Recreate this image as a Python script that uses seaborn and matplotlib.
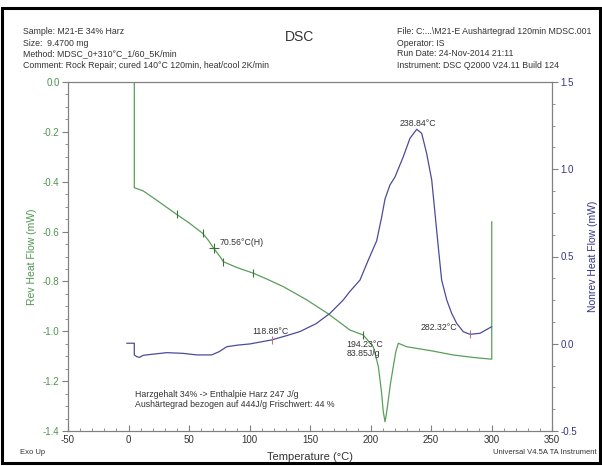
import numpy as np
import pandas as pd
import matplotlib
matplotlib.use("Agg")
import matplotlib.pyplot as plt
import seaborn as sns
from matplotlib.ticker import MultipleLocator
from matplotlib.patches import Rectangle

# ---------------- data ----------------
rev_temp = [4.8, 4.8, 12.2, 25.0, 39.8, 50.0, 61.3, 66.0, 70.1, 75.6, 78.4, 90.0,
            103.2, 115.0, 128.0, 147.3, 165.1, 183.0, 194.0, 202.3, 206.5, 208.0,
            209.2, 210.5, 212.0, 213.2, 214.7, 216.5, 218.8, 221.0, 223.0, 229.9,
            250.0, 268.4, 285.0, 300.2, 300.2]
rev_flow = [0.05, -0.424, -0.437, -0.48, -0.531, -0.565, -0.607, -0.635, -0.665, -0.70,
            -0.721, -0.745, -0.767, -0.792, -0.821, -0.874, -0.93, -0.995, -1.015,
            -1.062, -1.142, -1.20, -1.249, -1.32, -1.363, -1.33, -1.276, -1.21,
            -1.142, -1.08, -1.048, -1.062, -1.078, -1.095, -1.105, -1.112, -0.56]

nonrev_temp = [-1.5, 4.8, 4.8, 6.8, 9.0, 12.3, 20.0, 31.6, 45.0, 56.4, 68.7, 75.0,
               81.2, 90.0, 100.4, 118.3, 130.0, 141.7, 155.0, 166.5, 177.5, 183.0,
               191.3, 198.2, 205.1, 209.2, 212.0, 216.1, 220.2, 227.1, 232.6, 238.2,
               242.3, 246.4, 250.6, 253.3, 256.0, 258.8, 263.0, 267.1, 271.2, 276.7,
               282.2, 290.5, 300.2]
nonrev_flow = [0.003, 0.003, -0.064, -0.074, -0.078, -0.066, -0.06, -0.051, -0.055,
               -0.064, -0.064, -0.045, -0.017, -0.008, -0.001, 0.022, 0.045, 0.07,
               0.115, 0.174, 0.251, 0.30, 0.365, 0.48, 0.590, 0.725, 0.830, 0.910,
               0.955, 1.072, 1.177, 1.229, 1.206, 1.091, 0.938, 0.748, 0.556, 0.365,
               0.251, 0.174, 0.117, 0.069, 0.054, 0.06, 0.098]

rev_marks_t = [39.8, 61.3, 78.4, 103.2, 194.0]
rev_marks_v = [-0.531, -0.607, -0.721, -0.767, -1.015]
cross_t, cross_v = 70.56, -0.665
nonrev_marks_t = [118.88, 282.32]
nonrev_marks_v = [0.022, 0.054]

x_ticks = [-50, 0, 50, 100, 150, 200, 250, 300, 350]
left_ticks = [0.0, -0.2, -0.4, -0.6, -0.8, -1.0, -1.2, -1.4]
right_ticks = [1.5, 1.0, 0.5, 0.0, -0.5]

header_left = ["Sample: M21-E 34% Harz", "Size:  9.4700 mg",
               "Method: MDSC_0+310\u00b0C_1/60_5K/min",
               "Comment: Rock Repair; cured 140\u00b0C 120min, heat/cool 2K/min"]
header_right = ["File: C:...\\M21-E Aush\u00e4rtegrad 120min MDSC.001", "Operator: IS",
                "Run Date: 24-Nov-2014 21:11", "Instrument: DSC Q2000 V24.11 Build 124"]

# ---------------- style ----------------
sns.set_style("ticks")
plt.rcParams['font.family'] = ['Liberation Sans', 'DejaVu Sans']

GREEN = "#5a9e5a"
GREEN_T = "#4f934f"
BLUE = "#4b4b99"
BLUE_T = "#34348a"
SPINE = "#808080"
TXT = "#333333"

W, H = 602, 466
fig = plt.figure(figsize=(W / 100, H / 100), dpi=100)
ax = fig.add_axes([68 / W, 1 - 431 / H, (552 - 68) / W, (431 - 82) / H])
ax2 = ax.twinx()

df_rev = pd.DataFrame({"t": rev_temp, "v": rev_flow})
df_non = pd.DataFrame({"t": nonrev_temp, "v": nonrev_flow})
sns.lineplot(data=df_rev, x="t", y="v", ax=ax, sort=False, estimator=None,
             color=GREEN, linewidth=0.9)
sns.lineplot(data=df_non, x="t", y="v", ax=ax2, sort=False, estimator=None,
             color=BLUE, linewidth=0.9)

# marks on curves
ax.scatter(rev_marks_t, rev_marks_v, marker="|", s=40, color="#3e6e3e", linewidths=0.8, zorder=3)
ax.scatter([cross_t], [cross_v], marker="+", s=60, color="#3e6e3e", linewidths=0.8, zorder=3)
ax2.scatter(nonrev_marks_t, nonrev_marks_v, marker="|", s=40, color="#c07080", linewidths=0.8, zorder=3)

ax.set_xlim(-50, 350)
ax.set_ylim(-1.4, 0.0)
ax2.set_ylim(-0.5, 1.5)

ax.set_xticks(x_ticks)
ax.set_yticks(left_ticks)
ax2.set_yticks(right_ticks)
ax.set_xticklabels([str(t) for t in x_ticks])
ax.set_yticklabels([f"{t:.1f}" for t in left_ticks])
ax2.set_yticklabels([f"{t:.1f}" for t in right_ticks])
ax.xaxis.set_minor_locator(MultipleLocator(10))
ax.yaxis.set_minor_locator(MultipleLocator(0.05))
ax2.yaxis.set_minor_locator(MultipleLocator(0.125))

ax.tick_params(axis="x", which="both", direction="in", colors=SPINE, labelcolor=TXT,
               labelsize=7, pad=3)
ax.tick_params(axis="x", which="major", length=4)
ax.tick_params(axis="x", which="minor", length=2)
ax.tick_params(axis="y", which="both", direction="out", colors=SPINE, labelcolor=GREEN_T,
               labelsize=7, pad=2)
ax.tick_params(axis="y", which="major", length=4)
ax.tick_params(axis="y", which="minor", length=2)
ax2.tick_params(axis="y", which="both", direction="out", colors=SPINE, labelcolor=BLUE_T,
                labelsize=7, pad=2)
ax2.tick_params(axis="y", which="major", length=4)
ax2.tick_params(axis="y", which="minor", length=2)

for a in (ax, ax2):
    for s in a.spines.values():
        s.set_visible(True)
        s.set_color(SPINE)
        s.set_linewidth(0.8)

ax.set_xlabel("Temperature (\u00b0C)", fontsize=8, color=TXT, labelpad=5)
ax.set_ylabel("Rev Heat Flow (mW)", fontsize=7.5, color=GREEN_T, labelpad=4)
ax2.set_ylabel("Nonrev Heat Flow (mW)", fontsize=7.5, color=BLUE_T, labelpad=8)

# annotations
fs = 6.3
ax.text(75.5, -0.645, "70.56\u00b0C(H)", fontsize=fs, color=TXT, va="center", ha="left")
ax2.text(117.5, 0.072, "118.88\u00b0C", fontsize=fs, color=TXT, va="center", ha="center")
ax.text(180.3, -1.052, "194.23\u00b0C", fontsize=fs, color=TXT, va="center", ha="left")
ax.text(180.3, -1.091, "83.85J/g", fontsize=fs, color=TXT, va="center", ha="left")
ax2.text(271.5, 0.094, "282.32\u00b0C", fontsize=fs, color=TXT, va="center", ha="right")
ax2.text(238.8, 1.262, "238.84\u00b0C", fontsize=fs, color=TXT, va="center", ha="center")
ax.text(5.4, -1.253, "Harzgehalt 34% -> Enthalpie Harz 247 J/g", fontsize=fs, color=TXT,
        va="center", ha="left")
ax.text(5.4, -1.292, "Aush\u00e4rtegrad bezogen auf 444J/g Frischwert: 44 %", fontsize=fs,
        color=TXT, va="center", ha="left")

# header
line_y = [32, 43, 54, 65]
for txt, y in zip(header_left, line_y):
    fig.text(23 / W, 1 - y / H, txt, fontsize=6.3, color=TXT, va="center", ha="left")
for txt, y in zip(header_right, line_y):
    fig.text(397 / W, 1 - y / H, txt, fontsize=6.3, color=TXT, va="center", ha="left")
fig.text(300 / W, 1 - 37 / H, "DSC", fontsize=10, color=TXT, va="center", ha="center")

fig.text(20 / W, 1 - 452 / H, "Exo Up", fontsize=5.5, color=TXT, va="center", ha="left")
fig.text(597 / W, 1 - 452 / H, "Universal V4.5A TA Instrument", fontsize=5.5, color=TXT,
         va="center", ha="right")

fig.patches.append(Rectangle((0.004, 0.006), 0.992, 0.976, transform=fig.transFigure,
                             fill=False, edgecolor="black", linewidth=2.2))

fig.savefig("out.png", dpi=100)
